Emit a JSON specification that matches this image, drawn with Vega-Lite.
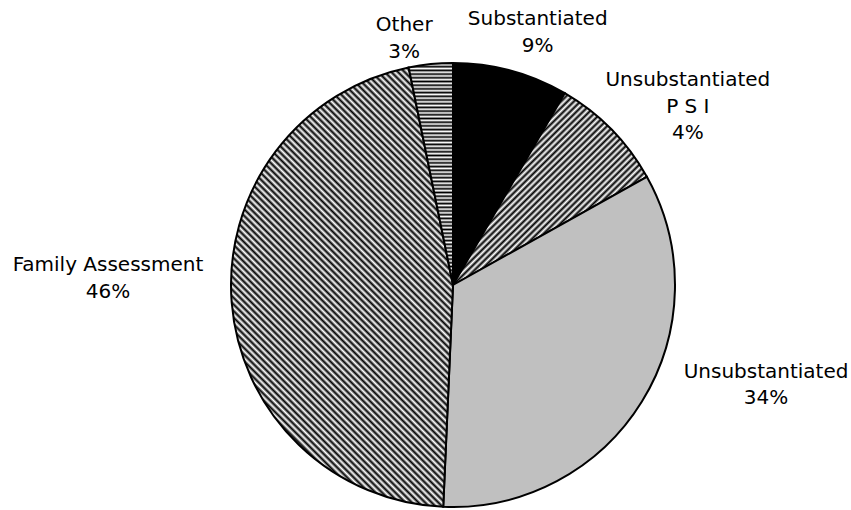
{
"$schema":"https://vega.github.io/schema/vega-lite/v6.json",
"width":444,"height":444,
"autosize":{"type":"none"},
"padding":{"left":231,"top":63,"right":176,"bottom":3},
"background":"white",
"config":{"view":{"stroke":null}},
"data":{"values":[
{"category":"Substantiated","value":8.4,"label":"Substantiated\n9%"},
{"category":"Unsubstantiated PSI","value":8.5,"label":"Unsubstantiated\nP S I\n4%"},
{"category":"Unsubstantiated","value":33.8,"label":"Unsubstantiated\n34%"},
{"category":"Family Assessment","value":46.1,"label":"Family Assessment\n46%"},
{"category":"Other","value":3.2,"label":"Other\n3%"}
]},
"transform":[{"window":[{"op":"row_number","as":"idx"}]}],
"encoding":{"theta":{"field":"value","type":"quantitative","stack":true},"order":{"field":"idx","type":"quantitative"}},
"layer":[
{"mark":{"type":"arc","stroke":"#000","strokeWidth":2},
"encoding":{"fill":{"condition":[
{"test":"datum.category==='Substantiated'","value":"#000"},
{"test":"datum.category==='Family Assessment'","value":{"gradient":"linear","x1":0,"y1":1,"x2":0.606,"y2":-0.199,"stops":[
{"offset":0,"color":"#000"},{"offset":0.005,"color":"#fff"},{"offset":0.01,"color":"#000"},{"offset":0.015,"color":"#fff"},{"offset":0.02,"color":"#000"},{"offset":0.025,"color":"#fff"},{"offset":0.03,"color":"#000"},{"offset":0.035,"color":"#fff"},{"offset":0.04,"color":"#000"},{"offset":0.045,"color":"#fff"},{"offset":0.05,"color":"#000"},{"offset":0.055,"color":"#fff"},{"offset":0.06,"color":"#000"},{"offset":0.065,"color":"#fff"},{"offset":0.07,"color":"#000"},{"offset":0.075,"color":"#fff"},{"offset":0.08,"color":"#000"},{"offset":0.085,"color":"#fff"},{"offset":0.09,"color":"#000"},{"offset":0.095,"color":"#fff"},
{"offset":0.1,"color":"#000"},{"offset":0.105,"color":"#fff"},{"offset":0.11,"color":"#000"},{"offset":0.115,"color":"#fff"},{"offset":0.12,"color":"#000"},{"offset":0.125,"color":"#fff"},{"offset":0.13,"color":"#000"},{"offset":0.135,"color":"#fff"},{"offset":0.14,"color":"#000"},{"offset":0.145,"color":"#fff"},{"offset":0.15,"color":"#000"},{"offset":0.155,"color":"#fff"},{"offset":0.16,"color":"#000"},{"offset":0.165,"color":"#fff"},{"offset":0.17,"color":"#000"},{"offset":0.175,"color":"#fff"},{"offset":0.18,"color":"#000"},{"offset":0.185,"color":"#fff"},{"offset":0.19,"color":"#000"},{"offset":0.195,"color":"#fff"},
{"offset":0.2,"color":"#000"},{"offset":0.205,"color":"#fff"},{"offset":0.21,"color":"#000"},{"offset":0.215,"color":"#fff"},{"offset":0.22,"color":"#000"},{"offset":0.225,"color":"#fff"},{"offset":0.23,"color":"#000"},{"offset":0.235,"color":"#fff"},{"offset":0.24,"color":"#000"},{"offset":0.245,"color":"#fff"},{"offset":0.25,"color":"#000"},{"offset":0.255,"color":"#fff"},{"offset":0.26,"color":"#000"},{"offset":0.265,"color":"#fff"},{"offset":0.27,"color":"#000"},{"offset":0.275,"color":"#fff"},{"offset":0.28,"color":"#000"},{"offset":0.285,"color":"#fff"},{"offset":0.29,"color":"#000"},{"offset":0.295,"color":"#fff"},
{"offset":0.3,"color":"#000"},{"offset":0.305,"color":"#fff"},{"offset":0.31,"color":"#000"},{"offset":0.315,"color":"#fff"},{"offset":0.32,"color":"#000"},{"offset":0.325,"color":"#fff"},{"offset":0.33,"color":"#000"},{"offset":0.335,"color":"#fff"},{"offset":0.34,"color":"#000"},{"offset":0.345,"color":"#fff"},{"offset":0.35,"color":"#000"},{"offset":0.355,"color":"#fff"},{"offset":0.36,"color":"#000"},{"offset":0.365,"color":"#fff"},{"offset":0.37,"color":"#000"},{"offset":0.375,"color":"#fff"},{"offset":0.38,"color":"#000"},{"offset":0.385,"color":"#fff"},{"offset":0.39,"color":"#000"},{"offset":0.395,"color":"#fff"},
{"offset":0.4,"color":"#000"},{"offset":0.405,"color":"#fff"},{"offset":0.41,"color":"#000"},{"offset":0.415,"color":"#fff"},{"offset":0.42,"color":"#000"},{"offset":0.425,"color":"#fff"},{"offset":0.43,"color":"#000"},{"offset":0.435,"color":"#fff"},{"offset":0.44,"color":"#000"},{"offset":0.445,"color":"#fff"},{"offset":0.45,"color":"#000"},{"offset":0.455,"color":"#fff"},{"offset":0.46,"color":"#000"},{"offset":0.465,"color":"#fff"},{"offset":0.47,"color":"#000"},{"offset":0.475,"color":"#fff"},{"offset":0.48,"color":"#000"},{"offset":0.485,"color":"#fff"},{"offset":0.49,"color":"#000"},{"offset":0.495,"color":"#fff"},
{"offset":0.5,"color":"#000"},{"offset":0.505,"color":"#fff"},{"offset":0.51,"color":"#000"},{"offset":0.515,"color":"#fff"},{"offset":0.52,"color":"#000"},{"offset":0.525,"color":"#fff"},{"offset":0.53,"color":"#000"},{"offset":0.535,"color":"#fff"},{"offset":0.54,"color":"#000"},{"offset":0.545,"color":"#fff"},{"offset":0.55,"color":"#000"},{"offset":0.555,"color":"#fff"},{"offset":0.56,"color":"#000"},{"offset":0.565,"color":"#fff"},{"offset":0.57,"color":"#000"},{"offset":0.575,"color":"#fff"},{"offset":0.58,"color":"#000"},{"offset":0.585,"color":"#fff"},{"offset":0.59,"color":"#000"},{"offset":0.595,"color":"#fff"},
{"offset":0.6,"color":"#000"},{"offset":0.605,"color":"#fff"},{"offset":0.61,"color":"#000"},{"offset":0.615,"color":"#fff"},{"offset":0.62,"color":"#000"},{"offset":0.625,"color":"#fff"},{"offset":0.63,"color":"#000"},{"offset":0.635,"color":"#fff"},{"offset":0.64,"color":"#000"},{"offset":0.645,"color":"#fff"},{"offset":0.65,"color":"#000"},{"offset":0.655,"color":"#fff"},{"offset":0.66,"color":"#000"},{"offset":0.665,"color":"#fff"},{"offset":0.67,"color":"#000"},{"offset":0.675,"color":"#fff"},{"offset":0.68,"color":"#000"},{"offset":0.685,"color":"#fff"},{"offset":0.69,"color":"#000"},{"offset":0.695,"color":"#fff"},
{"offset":0.7,"color":"#000"},{"offset":0.705,"color":"#fff"},{"offset":0.71,"color":"#000"},{"offset":0.715,"color":"#fff"},{"offset":0.72,"color":"#000"},{"offset":0.725,"color":"#fff"},{"offset":0.73,"color":"#000"},{"offset":0.735,"color":"#fff"},{"offset":0.74,"color":"#000"},{"offset":0.745,"color":"#fff"},{"offset":0.75,"color":"#000"},{"offset":0.755,"color":"#fff"},{"offset":0.76,"color":"#000"},{"offset":0.765,"color":"#fff"},{"offset":0.77,"color":"#000"},{"offset":0.775,"color":"#fff"},{"offset":0.78,"color":"#000"},{"offset":0.785,"color":"#fff"},{"offset":0.79,"color":"#000"},{"offset":0.795,"color":"#fff"},
{"offset":0.8,"color":"#000"},{"offset":0.805,"color":"#fff"},{"offset":0.81,"color":"#000"},{"offset":0.815,"color":"#fff"},{"offset":0.82,"color":"#000"},{"offset":0.825,"color":"#fff"},{"offset":0.83,"color":"#000"},{"offset":0.835,"color":"#fff"},{"offset":0.84,"color":"#000"},{"offset":0.845,"color":"#fff"},{"offset":0.85,"color":"#000"},{"offset":0.855,"color":"#fff"},{"offset":0.86,"color":"#000"},{"offset":0.865,"color":"#fff"},{"offset":0.87,"color":"#000"},{"offset":0.875,"color":"#fff"},{"offset":0.88,"color":"#000"},{"offset":0.885,"color":"#fff"},{"offset":0.89,"color":"#000"},{"offset":0.895,"color":"#fff"},
{"offset":0.9,"color":"#000"},{"offset":0.905,"color":"#fff"},{"offset":0.91,"color":"#000"},{"offset":0.915,"color":"#fff"},{"offset":0.92,"color":"#000"},{"offset":0.925,"color":"#fff"},{"offset":0.93,"color":"#000"},{"offset":0.935,"color":"#fff"},{"offset":0.94,"color":"#000"},{"offset":0.945,"color":"#fff"},{"offset":0.95,"color":"#000"},{"offset":0.955,"color":"#fff"},{"offset":0.96,"color":"#000"},{"offset":0.965,"color":"#fff"},{"offset":0.97,"color":"#000"},{"offset":0.975,"color":"#fff"},{"offset":0.98,"color":"#000"},{"offset":0.985,"color":"#fff"},{"offset":0.99,"color":"#000"},{"offset":0.995,"color":"#fff"},
{"offset":1,"color":"#000"}]}},
{"test":"datum.category==='Unsubstantiated PSI'","value":{"gradient":"linear","x1":0,"y1":0,"x2":1,"y2":1,"stops":[
{"offset":0,"color":"#000"},{"offset":0.0083,"color":"#fff"},{"offset":0.0167,"color":"#000"},{"offset":0.025,"color":"#fff"},{"offset":0.0333,"color":"#000"},{"offset":0.0417,"color":"#fff"},{"offset":0.05,"color":"#000"},{"offset":0.0583,"color":"#fff"},{"offset":0.0667,"color":"#000"},{"offset":0.075,"color":"#fff"},{"offset":0.0833,"color":"#000"},{"offset":0.0917,"color":"#fff"},
{"offset":0.1,"color":"#000"},{"offset":0.1083,"color":"#fff"},{"offset":0.1167,"color":"#000"},{"offset":0.125,"color":"#fff"},{"offset":0.1333,"color":"#000"},{"offset":0.1417,"color":"#fff"},{"offset":0.15,"color":"#000"},{"offset":0.1583,"color":"#fff"},{"offset":0.1667,"color":"#000"},{"offset":0.175,"color":"#fff"},{"offset":0.1833,"color":"#000"},{"offset":0.1917,"color":"#fff"},
{"offset":0.2,"color":"#000"},{"offset":0.2083,"color":"#fff"},{"offset":0.2167,"color":"#000"},{"offset":0.225,"color":"#fff"},{"offset":0.2333,"color":"#000"},{"offset":0.2417,"color":"#fff"},{"offset":0.25,"color":"#000"},{"offset":0.2583,"color":"#fff"},{"offset":0.2667,"color":"#000"},{"offset":0.275,"color":"#fff"},{"offset":0.2833,"color":"#000"},{"offset":0.2917,"color":"#fff"},
{"offset":0.3,"color":"#000"},{"offset":0.3083,"color":"#fff"},{"offset":0.3167,"color":"#000"},{"offset":0.325,"color":"#fff"},{"offset":0.3333,"color":"#000"},{"offset":0.3417,"color":"#fff"},{"offset":0.35,"color":"#000"},{"offset":0.3583,"color":"#fff"},{"offset":0.3667,"color":"#000"},{"offset":0.375,"color":"#fff"},{"offset":0.3833,"color":"#000"},{"offset":0.3917,"color":"#fff"},
{"offset":0.4,"color":"#000"},{"offset":0.4083,"color":"#fff"},{"offset":0.4167,"color":"#000"},{"offset":0.425,"color":"#fff"},{"offset":0.4333,"color":"#000"},{"offset":0.4417,"color":"#fff"},{"offset":0.45,"color":"#000"},{"offset":0.4583,"color":"#fff"},{"offset":0.4667,"color":"#000"},{"offset":0.475,"color":"#fff"},{"offset":0.4833,"color":"#000"},{"offset":0.4917,"color":"#fff"},
{"offset":0.5,"color":"#000"},{"offset":0.5083,"color":"#fff"},{"offset":0.5167,"color":"#000"},{"offset":0.525,"color":"#fff"},{"offset":0.5333,"color":"#000"},{"offset":0.5417,"color":"#fff"},{"offset":0.55,"color":"#000"},{"offset":0.5583,"color":"#fff"},{"offset":0.5667,"color":"#000"},{"offset":0.575,"color":"#fff"},{"offset":0.5833,"color":"#000"},{"offset":0.5917,"color":"#fff"},
{"offset":0.6,"color":"#000"},{"offset":0.6083,"color":"#fff"},{"offset":0.6167,"color":"#000"},{"offset":0.625,"color":"#fff"},{"offset":0.6333,"color":"#000"},{"offset":0.6417,"color":"#fff"},{"offset":0.65,"color":"#000"},{"offset":0.6583,"color":"#fff"},{"offset":0.6667,"color":"#000"},{"offset":0.675,"color":"#fff"},{"offset":0.6833,"color":"#000"},{"offset":0.6917,"color":"#fff"},
{"offset":0.7,"color":"#000"},{"offset":0.7083,"color":"#fff"},{"offset":0.7167,"color":"#000"},{"offset":0.725,"color":"#fff"},{"offset":0.7333,"color":"#000"},{"offset":0.7417,"color":"#fff"},{"offset":0.75,"color":"#000"},{"offset":0.7583,"color":"#fff"},{"offset":0.7667,"color":"#000"},{"offset":0.775,"color":"#fff"},{"offset":0.7833,"color":"#000"},{"offset":0.7917,"color":"#fff"},
{"offset":0.8,"color":"#000"},{"offset":0.8083,"color":"#fff"},{"offset":0.8167,"color":"#000"},{"offset":0.825,"color":"#fff"},{"offset":0.8333,"color":"#000"},{"offset":0.8417,"color":"#fff"},{"offset":0.85,"color":"#000"},{"offset":0.8583,"color":"#fff"},{"offset":0.8667,"color":"#000"},{"offset":0.875,"color":"#fff"},{"offset":0.8833,"color":"#000"},{"offset":0.8917,"color":"#fff"},
{"offset":0.9,"color":"#000"},{"offset":0.9083,"color":"#fff"},{"offset":0.9167,"color":"#000"},{"offset":0.925,"color":"#fff"},{"offset":0.9333,"color":"#000"},{"offset":0.9417,"color":"#fff"},{"offset":0.95,"color":"#000"},{"offset":0.9583,"color":"#fff"},{"offset":0.9667,"color":"#000"},{"offset":0.975,"color":"#fff"},{"offset":0.9833,"color":"#000"},{"offset":0.9917,"color":"#fff"},
{"offset":1,"color":"#000"}]}},
{"test":"datum.category==='Other'","value":{"gradient":"linear","x1":0,"y1":0,"x2":0,"y2":1,"stops":[
{"offset":0,"color":"#000"},{"offset":0.0083,"color":"#fff"},{"offset":0.0167,"color":"#000"},{"offset":0.025,"color":"#fff"},{"offset":0.0333,"color":"#000"},{"offset":0.0417,"color":"#fff"},{"offset":0.05,"color":"#000"},{"offset":0.0583,"color":"#fff"},{"offset":0.0667,"color":"#000"},{"offset":0.075,"color":"#fff"},{"offset":0.0833,"color":"#000"},{"offset":0.0917,"color":"#fff"},
{"offset":0.1,"color":"#000"},{"offset":0.1083,"color":"#fff"},{"offset":0.1167,"color":"#000"},{"offset":0.125,"color":"#fff"},{"offset":0.1333,"color":"#000"},{"offset":0.1417,"color":"#fff"},{"offset":0.15,"color":"#000"},{"offset":0.1583,"color":"#fff"},{"offset":0.1667,"color":"#000"},{"offset":0.175,"color":"#fff"},{"offset":0.1833,"color":"#000"},{"offset":0.1917,"color":"#fff"},
{"offset":0.2,"color":"#000"},{"offset":0.2083,"color":"#fff"},{"offset":0.2167,"color":"#000"},{"offset":0.225,"color":"#fff"},{"offset":0.2333,"color":"#000"},{"offset":0.2417,"color":"#fff"},{"offset":0.25,"color":"#000"},{"offset":0.2583,"color":"#fff"},{"offset":0.2667,"color":"#000"},{"offset":0.275,"color":"#fff"},{"offset":0.2833,"color":"#000"},{"offset":0.2917,"color":"#fff"},
{"offset":0.3,"color":"#000"},{"offset":0.3083,"color":"#fff"},{"offset":0.3167,"color":"#000"},{"offset":0.325,"color":"#fff"},{"offset":0.3333,"color":"#000"},{"offset":0.3417,"color":"#fff"},{"offset":0.35,"color":"#000"},{"offset":0.3583,"color":"#fff"},{"offset":0.3667,"color":"#000"},{"offset":0.375,"color":"#fff"},{"offset":0.3833,"color":"#000"},{"offset":0.3917,"color":"#fff"},
{"offset":0.4,"color":"#000"},{"offset":0.4083,"color":"#fff"},{"offset":0.4167,"color":"#000"},{"offset":0.425,"color":"#fff"},{"offset":0.4333,"color":"#000"},{"offset":0.4417,"color":"#fff"},{"offset":0.45,"color":"#000"},{"offset":0.4583,"color":"#fff"},{"offset":0.4667,"color":"#000"},{"offset":0.475,"color":"#fff"},{"offset":0.4833,"color":"#000"},{"offset":0.4917,"color":"#fff"},
{"offset":0.5,"color":"#000"},{"offset":0.5083,"color":"#fff"},{"offset":0.5167,"color":"#000"},{"offset":0.525,"color":"#fff"},{"offset":0.5333,"color":"#000"},{"offset":0.5417,"color":"#fff"},{"offset":0.55,"color":"#000"},{"offset":0.5583,"color":"#fff"},{"offset":0.5667,"color":"#000"},{"offset":0.575,"color":"#fff"},{"offset":0.5833,"color":"#000"},{"offset":0.5917,"color":"#fff"},
{"offset":0.6,"color":"#000"},{"offset":0.6083,"color":"#fff"},{"offset":0.6167,"color":"#000"},{"offset":0.625,"color":"#fff"},{"offset":0.6333,"color":"#000"},{"offset":0.6417,"color":"#fff"},{"offset":0.65,"color":"#000"},{"offset":0.6583,"color":"#fff"},{"offset":0.6667,"color":"#000"},{"offset":0.675,"color":"#fff"},{"offset":0.6833,"color":"#000"},{"offset":0.6917,"color":"#fff"},
{"offset":0.7,"color":"#000"},{"offset":0.7083,"color":"#fff"},{"offset":0.7167,"color":"#000"},{"offset":0.725,"color":"#fff"},{"offset":0.7333,"color":"#000"},{"offset":0.7417,"color":"#fff"},{"offset":0.75,"color":"#000"},{"offset":0.7583,"color":"#fff"},{"offset":0.7667,"color":"#000"},{"offset":0.775,"color":"#fff"},{"offset":0.7833,"color":"#000"},{"offset":0.7917,"color":"#fff"},
{"offset":0.8,"color":"#000"},{"offset":0.8083,"color":"#fff"},{"offset":0.8167,"color":"#000"},{"offset":0.825,"color":"#fff"},{"offset":0.8333,"color":"#000"},{"offset":0.8417,"color":"#fff"},{"offset":0.85,"color":"#000"},{"offset":0.8583,"color":"#fff"},{"offset":0.8667,"color":"#000"},{"offset":0.875,"color":"#fff"},{"offset":0.8833,"color":"#000"},{"offset":0.8917,"color":"#fff"},
{"offset":0.9,"color":"#000"},{"offset":0.9083,"color":"#fff"},{"offset":0.9167,"color":"#000"},{"offset":0.925,"color":"#fff"},{"offset":0.9333,"color":"#000"},{"offset":0.9417,"color":"#fff"},{"offset":0.95,"color":"#000"},{"offset":0.9583,"color":"#fff"},{"offset":0.9667,"color":"#000"},{"offset":0.975,"color":"#fff"},{"offset":0.9833,"color":"#000"},{"offset":0.9917,"color":"#fff"},
{"offset":1,"color":"#000"}]}}
],"value":"#c0c0c0"}}},
{"mark":{"type":"text","radius":250,"font":"DejaVu Sans","fontSize":20,"lineHeight":26.5,"lineBreak":"\n","align":"center","baseline":"middle","color":"#000",
"dx":{"expr":"datum.category==='Substantiated'?19.5:datum.category==='Unsubstantiated PSI'?56.4:datum.category==='Unsubstantiated'?100.3:datum.category==='Family Assessment'?-95.8:-23.7"},
"dy":{"expr":"datum.category==='Substantiated'?-24.5:datum.category==='Unsubstantiated PSI'?-29.8:datum.category==='Unsubstantiated'?-44.6:datum.category==='Family Assessment'?-39.4:-11.2"}},
"encoding":{"text":{"field":"label","type":"nominal"}}}
]
}
